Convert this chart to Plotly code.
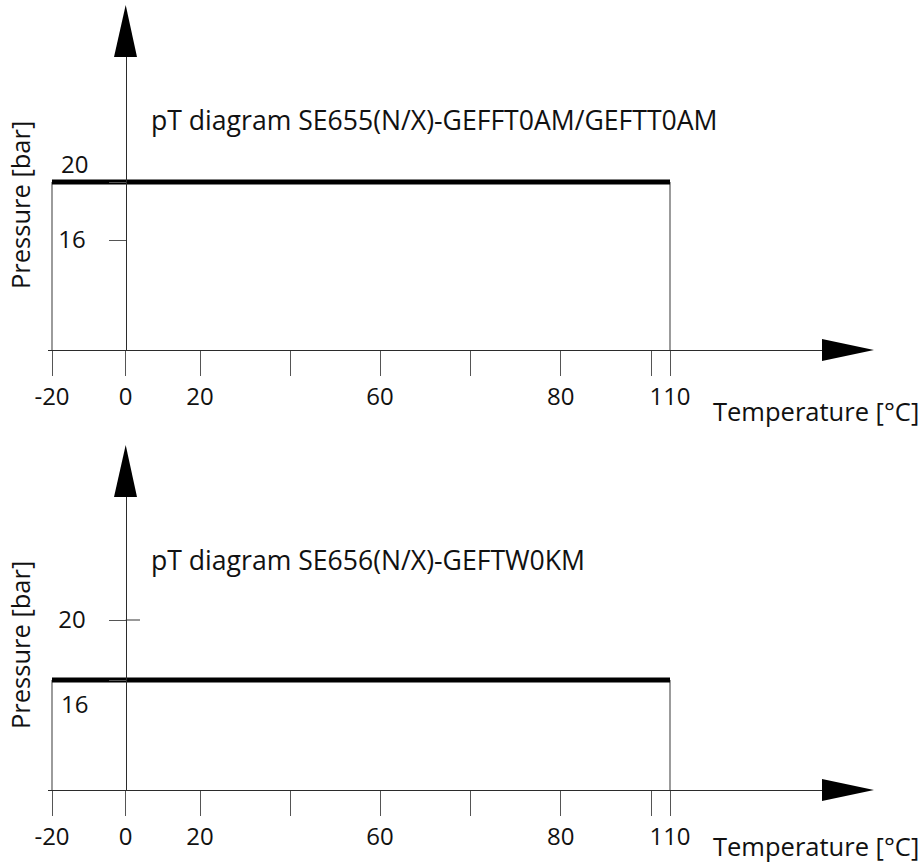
import plotly.graph_objects as go

# ---------------- data ----------------
temp_tick_labels = ["-20", "0", "20", "", "60", "", "80", "", "110"]
pressure_ticks = [16, 20]
titles = ["pT diagram SE655(N/X)-GEFFT0AM/GEFTT0AM",
          "pT diagram SE656(N/X)-GEFTW0KM"]
temp_range = [-20, 110]          # °C, allowed temperature span
pressure_limit = [20, 16]        # bar, max pressure for each sensor

# ---------------- layout helpers (schematic, non-linear axis) ----------------
W, H = 924, 865
tick_pos = [52, 125.7, 200, 290, 380, 470.7, 560.7, 651, 670]
pos_of = {lab: p for lab, p in zip(temp_tick_labels, tick_pos) if lab}
def tx(t):
    return pos_of[str(t)]

X0, X1 = 48, 823
panels = [
    dict(bottom=350, top=57, tip=5, yrange=[8.414, 28.62], label_shift={20: 19}, tlab=61),
    dict(bottom=790, top=497, tip=445, yrange=[8.667, 28.2], label_shift={16: -23}, tlab=56),
]
FONT = "Open Sans"
FS = 24
TFS = 26.6
AFS = 25.5
AX = "#2b2b2b"
TK = "#555555"

fig = go.Figure()
shapes, annotations = [], []

for i, pnl in enumerate(panels):
    n = "" if i == 0 else str(i + 1)
    xa, ya = "x" + n, "y" + n
    for t in temp_range:
        fig.add_trace(go.Scatter(x=[tx(t), tx(t)], y=[pnl["yrange"][0], pressure_limit[i]],
                                 mode="lines", line=dict(color="#666666", width=1.3),
                                 xaxis=xa, yaxis=ya, showlegend=False, hoverinfo="skip"))
    fig.add_trace(go.Scatter(x=[tx(temp_range[0]), tx(temp_range[1])],
                             y=[pressure_limit[i], pressure_limit[i]],
                             mode="lines", line=dict(color="#000000", width=5),
                             xaxis=xa, yaxis=ya, showlegend=False, hoverinfo="skip"))

    ydom = [1 - pnl["bottom"] / H, 1 - pnl["top"] / H]
    ticktext = ["" if v in pnl["label_shift"] else str(v) for v in pressure_ticks]
    fig.update_layout(**{
        "xaxis" + n: dict(domain=[X0 / W, X1 / W], range=[X0, X1], anchor=ya,
                          automargin=False,
                          showline=True, linecolor=AX, linewidth=1.3,
                          tickmode="array", tickvals=tick_pos, ticktext=temp_tick_labels,
                          ticks="outside", ticklen=25, tickcolor=TK, tickwidth=1.2,
                          ticklabelstandoff=0,
                          showgrid=False, zeroline=False, fixedrange=True,
                          tickfont=dict(family=FONT, size=FS, color="#111")),
        "yaxis" + n: dict(domain=ydom, range=pnl["yrange"], anchor="free",
                          position=125.7 / W, automargin=False,
                          showline=True, linecolor=AX, linewidth=1.3,
                          tickmode="array", tickvals=pressure_ticks, ticktext=ticktext,
                          ticks="outside", ticklen=17, tickcolor=TK, tickwidth=1.2,
                          ticklabelstandoff=18,
                          showgrid=False, zeroline=False, fixedrange=True,
                          tickfont=dict(family=FONT, size=FS, color="#111")),
    })
    shapes.append(dict(type="line", xref=xa, yref=ya, x0=tx(0), x1=140, y0=20, y1=20,
                       line=dict(color=TK, width=1.2), layer="below"))
    for v, sh in pnl["label_shift"].items():
        annotations.append(dict(text=str(v), xref="paper", yref=ya, x=90 / W, y=v,
                                xanchor="right", yanchor="middle", yshift=sh, showarrow=False,
                                font=dict(family=FONT, size=FS, color="#111")))
    ty, by = 1 - pnl["tip"] / H, 1 - pnl["top"] / H
    shapes.append(dict(type="path", xref="paper", yref="paper",
                       path=f"M {114/W} {by} L {125.7/W} {ty} L {137/W} {by} Z",
                       fillcolor="black", line=dict(width=0)))
    yb = pnl["bottom"]
    shapes.append(dict(type="path", xref="paper", yref="paper",
                       path=f"M {822/W} {1-(yb-11)/H} L {874/W} {1-yb/H} L {822/W} {1-(yb+11)/H} Z",
                       fillcolor="black", line=dict(width=0)))
    annotations.append(dict(text=titles[i], xref="paper", yref="paper", x=149 / W,
                            y=1 - (pnl["top"] + 63) / H, xanchor="left", yanchor="middle",
                            showarrow=False, font=dict(family=FONT, size=TFS, color="#111")))
    annotations.append(dict(text="Pressure [bar]", xref="paper", yref="paper", x=20 / W,
                            y=1 - (pnl["top"] + 148) / H, textangle=-90,
                            xanchor="center", yanchor="middle", showarrow=False,
                            font=dict(family=FONT, size=AFS, color="#111")))
    annotations.append(dict(text="Temperature [°C]", xref="paper", yref="paper", x=921 / W,
                            y=1 - (yb + pnl["tlab"]) / H, xanchor="right", yanchor="middle",
                            showarrow=False, font=dict(family=FONT, size=AFS, color="#111")))

fig.update_layout(width=W, height=H, margin=dict(l=0, r=0, t=0, b=0, pad=0),
                  plot_bgcolor="white", paper_bgcolor="white",
                  shapes=shapes, annotations=annotations, showlegend=False)
fig.write_html("out.html", config={"displayModeBar": False},
               post_script="document.body.style.margin='0';")
